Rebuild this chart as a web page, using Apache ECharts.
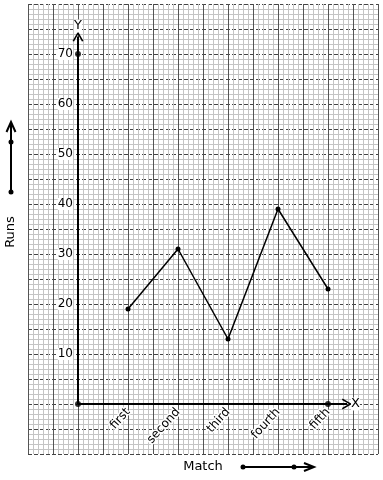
<!DOCTYPE html>
<html><head><meta charset="utf-8">
<script src="https://cdn.jsdelivr.net/npm/echarts@6/dist/echarts.min.js"></script>
<style>html,body{margin:0;padding:0;background:#fff}#c{width:383px;height:480px}</style>
</head><body><div id="c"></div>
<script>
const categories = ['first', 'second', 'third', 'fourth', 'fifth'];
const runs = [19, 31, 13, 39, 23];
const yTickLabels = [10, 20, 30, 40, 50, 60, 70];
const axisDots = [[0, 0], [0, 70], [5, 0]];
const xAxisEnd = 5.38;
const yAxisEnd = 73.5;
const xTitle = 'Match';
const yTitle = 'Runs';

const FONT = 'DejaVu Sans';
const chevronUp = 'path://M0,10 L5,0 L10,10 L8.6,10.6 L5,3.2 L1.4,10.6 Z';

const GRID = {left: 28, top: 4, width: 350, height: 450};
const X_MIN = -1, X_MAX = 6, Y_MIN = -10, Y_MAX = 80;
// shift label axes so they sit on the zero lines
const yOffset = -GRID.width * (0 - X_MIN) / (X_MAX - X_MIN);
const xOffset = -GRID.height * (0 - Y_MIN) / (Y_MAX - Y_MIN);

const chart = echarts.init(document.getElementById('c'), null, {renderer: 'canvas'});
chart.setOption({
  animation: false,
  backgroundColor: '#fff',
  textStyle: {fontFamily: FONT},
  grid: Object.assign({containLabel: false, outerBoundsMode: 'none'}, GRID),
  xAxis: {
    type: 'value', min: X_MIN, max: X_MAX, interval: 0.5, position: 'bottom', offset: xOffset,
    axisLine: {show: false, onZero: false},
    axisTick: {show: false},
    minorTick: {show: false, splitNumber: 5},
    axisLabel: {
      show: true, rotate: 48, margin: 6, fontSize: 12, color: '#000', fontFamily: FONT,
      textBorderColor: '#fff', textBorderWidth: 3,
      formatter: v => (Number.isInteger(v) && v >= 1 && v <= categories.length) ? categories[v - 1] : ''
    },
    splitLine: {show: true, lineStyle: {color: '#555', width: 1}},
    minorSplitLine: {show: true, lineStyle: {color: '#c4c4c4', width: 1}}
  },
  yAxis: {
    type: 'value', min: Y_MIN, max: Y_MAX, interval: 5, position: 'left', offset: yOffset,
    axisLine: {show: false, onZero: false},
    axisTick: {show: false},
    minorTick: {show: false, splitNumber: 5},
    axisLabel: {
      show: true, margin: 5, fontSize: 12, color: '#000', fontFamily: FONT,
      backgroundColor: '#fff',
      formatter: v => yTickLabels.includes(v) ? String(v) : ''
    },
    splitLine: {show: true, lineStyle: {color: '#444', width: 1, type: [4, 2]}},
    minorSplitLine: {show: true, lineStyle: {color: '#c4c4c4', width: 1}}
  },
  series: [{
    type: 'line', name: 'axes', data: [], silent: true,
    markLine: {
      silent: true, animation: false,
      symbol: ['none', chevronUp], symbolSize: [11, 10],
      lineStyle: {color: '#000', width: 2, type: 'solid'},
      label: {show: true, position: 'end', distance: 4, color: '#000', fontSize: 13, fontFamily: FONT, backgroundColor: '#fff'},
      data: [
        [{coord: [0, 0]}, {coord: [xAxisEnd, 0], label: {formatter: 'X'}}],
        [{coord: [0, 0]}, {coord: [0, yAxisEnd], label: {formatter: 'Y'}}]
      ]
    }
  }, {
    type: 'scatter', name: 'axisDots', data: axisDots, symbolSize: 6,
    itemStyle: {color: '#000'}, z: 5, silent: true
  }, {
    type: 'line', name: 'Runs',
    data: categories.map((c, i) => [i + 1, runs[i]]),
    symbol: 'circle', symbolSize: 5, showAllSymbol: true,
    lineStyle: {color: '#000', width: 1.5},
    itemStyle: {color: '#000'}, z: 6
  }],
  graphic: [
    {type: 'text', x: 11, y: 232, rotation: Math.PI / 2,
     style: {text: yTitle, font: '13px "DejaVu Sans"', fill: '#000', align: 'center', verticalAlign: 'middle'}},
    {type: 'text', x: 203, y: 467,
     style: {text: xTitle, font: '13px "DejaVu Sans"', fill: '#000', align: 'center', verticalAlign: 'middle'}},
    {type: 'polyline', shape: {points: [[11, 192], [11, 123]]}, style: {stroke: '#000', lineWidth: 2, fill: null}},
    {type: 'polyline', shape: {points: [[6.5, 132], [11, 122], [15.5, 132]]}, style: {stroke: '#000', lineWidth: 2, fill: null}},
    {type: 'circle', shape: {cx: 11, cy: 192, r: 2.5}, style: {fill: '#000'}},
    {type: 'circle', shape: {cx: 11, cy: 142, r: 2.5}, style: {fill: '#000'}},
    {type: 'polyline', shape: {points: [[243, 467], [313, 467]]}, style: {stroke: '#000', lineWidth: 2, fill: null}},
    {type: 'polyline', shape: {points: [[304, 463], [314, 467], [304, 471]]}, style: {stroke: '#000', lineWidth: 2, fill: null}},
    {type: 'circle', shape: {cx: 243, cy: 467, r: 2.5}, style: {fill: '#000'}},
    {type: 'circle', shape: {cx: 294, cy: 467, r: 2.5}, style: {fill: '#000'}}
  ]
});
</script>
</body></html>
